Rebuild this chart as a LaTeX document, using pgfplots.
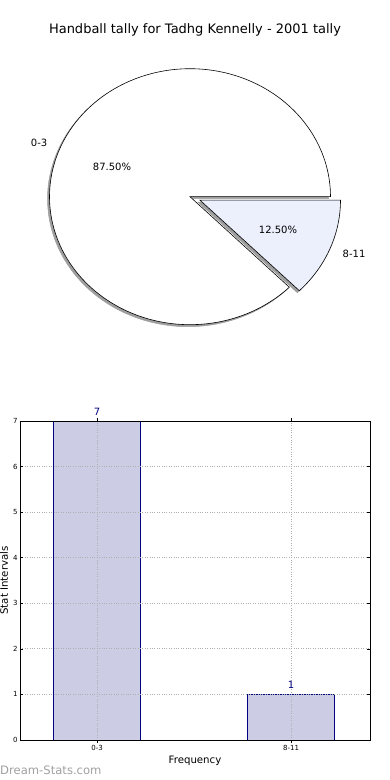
\documentclass[border=0pt]{standalone}
\usepackage{pgfplots}
\pgfplotsset{compat=1.18}
\usepackage{fontspec}
\setmainfont{DejaVu Sans}
\definecolor{barfill}{RGB}{204,204,229}
\definecolor{baredge}{RGB}{0,0,128}
\definecolor{slicefill}{RGB}{235,240,252}
\definecolor{shadowc}{RGB}{158,158,158}
\definecolor{gridc}{RGB}{176,176,176}
\definecolor{wm}{RGB}{160,160,160}
% pie data
\def\pieA{7}
\def\pieB{1}
\begin{document}
\begin{tikzpicture}[x=1pt,y=1pt]
\useasboundingbox (0,0) rectangle (390,780);
\pgfmathsetmacro{\angA}{360*\pieA/(\pieA+\pieB)}
% ---------------- pie ----------------
\begin{axis}[at={(0pt,380pt)}, anchor=south west, scale only axis,
  width=390pt, height=400pt, xmin=0, xmax=390, ymin=380, ymax=780,
  hide axis, clip=false]
% shadows
\addplot[draw=shadowc, fill=shadowc, line width=0.5pt, domain=0:\angA, samples=160, variable=\t]
  ({188+140.5*cos(\t)},{581.3+128*sin(\t)}) -- (188,581.3) -- cycle;
\addplot[draw=shadowc, fill=shadowc, line width=0.5pt, domain=\angA:360, samples=30, variable=\t]
  ({198+140.5*cos(\t)},{577.8+128*sin(\t)}) -- (198,577.8) -- cycle;
% wedges
\addplot[draw=black, fill=white, line width=0.6pt, domain=0:\angA, samples=160, variable=\t]
  ({190+140.5*cos(\t)},{583.3+128*sin(\t)}) -- (190,583.3) -- cycle;
\addplot[draw=black, fill=slicefill, line width=0.6pt, domain=\angA:360, samples=30, variable=\t]
  ({200+140.5*cos(\t)},{579.8+128*sin(\t)}) -- (200,579.8) -- cycle;
\node[font=\fontsize{13}{15}\selectfont] at (195,750) {Handball tally for Tadhg Kennelly - 2001 tally};
\node[font=\fontsize{10}{12}\selectfont, anchor=east, inner sep=0pt] at (47.5,637.5) {0-3};
\node[font=\fontsize{10}{12}\selectfont] at (112,612.7) {87.50\%};
\node[font=\fontsize{10}{12}\selectfont, anchor=west, inner sep=0pt] at (342.5,526) {8-11};
\node[font=\fontsize{10}{12}\selectfont] at (278,550.4) {12.50\%};
\end{axis}
% ---------------- bars ----------------
\begin{axis}[at={(20pt,40pt)}, anchor=south west, scale only axis,
  width=350pt, height=319pt,
  xmin=-0.397, xmax=1.407, ymin=0, ymax=7,
  ybar, bar width=87pt,
  xtick={0,1}, xticklabels={0-3,8-11},
  ytick={0,1,2,3,4,5,6,7},
  grid=major, grid style={gridc, dotted, line width=0.8pt},
  axis on top, clip=false,
  axis line style={black, line width=0.8pt},
  major tick length=3pt, tick style={black, line width=0.6pt},
  /pgf/number format/assume math mode=true,
  ticklabel style={font=\fontsize{7}{8}\selectfont},
  xticklabel style={yshift=1pt},
  yticklabel style={xshift=1pt},
  xlabel={Frequency}, ylabel={Stat Intervals},
  every axis x label/.style={at={(axis description cs:0.5,0)}, yshift=-20.5pt, anchor=center, font=\fontsize{10.2}{12}\selectfont},
  every axis y label/.style={at={(axis description cs:0,0.5)}, xshift=-16pt, rotate=90, anchor=center, font=\fontsize{10.2}{12}\selectfont},
  nodes near coords,
  nodes near coords style={font=\fontsize{10}{12}\selectfont, color=baredge, anchor=south, inner sep=0pt, yshift=5.5pt},
]
\addplot[fill=barfill, draw=baredge, line width=0.8pt] coordinates {(0,7) (1,1)};
\node[anchor=west, inner sep=0pt, font=\fontsize{11.6}{13}\selectfont, color=wm] at (axis description cs:-0.057,-0.096) {Dream-Stats.com};
\end{axis}
\end{tikzpicture}
\end{document}
